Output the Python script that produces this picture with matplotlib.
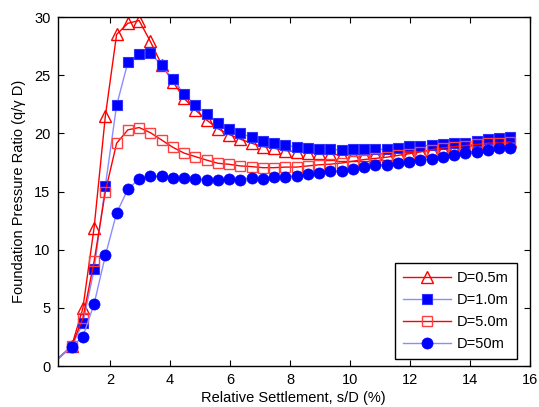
import numpy as np
import matplotlib
matplotlib.use("Agg")
import matplotlib.pyplot as plt

plt.rcParams['font.family'] = ['Liberation Sans', 'DejaVu Sans']

# relative settlement s/D (%) : 0 plus 40 measured steps
s_over_D = [0.0] + [round(0.72 + 0.375 * k, 3) for k in range(40)]

ratio_05 = [0, 1.7, 4.96, 11.9, 21.5, 28.5, 29.46, 29.7, 27.9, 25.9, 24.45,
            23.0, 22.0, 21.15, 20.4, 19.9, 19.5, 19.15, 18.86, 18.72, 18.51,
            18.43, 18.35, 18.3, 18.2, 18.15, 18.15, 18.18, 18.2, 18.25, 18.3,
            18.35, 18.45, 18.55, 18.65, 18.75, 18.85, 18.95, 19.1, 19.2, 19.3]
ratio_10 = [0, 1.66, 3.67, 8.3, 15.5, 22.4, 26.1, 26.8, 26.9, 25.85, 24.65,
            23.35, 22.45, 21.65, 20.9, 20.35, 20.0, 19.66, 19.32, 19.15, 18.97,
            18.8, 18.71, 18.63, 18.63, 18.55, 18.63, 18.63, 18.63, 18.63, 18.72,
            18.9, 18.9, 19.0, 19.06, 19.2, 19.2, 19.3, 19.5, 19.57, 19.7]
ratio_50 = [0, 1.7, 4.1, 9.0, 15.0, 19.15, 20.3, 20.5, 20.06, 19.43, 18.8,
            18.3, 18.0, 17.7, 17.43, 17.34, 17.2, 17.14, 17.05, 17.05, 17.1,
            17.1, 17.2, 17.3, 17.35, 17.45, 17.6, 17.75, 17.85, 17.95, 18.1,
            18.25, 18.4, 18.6, 18.75, 18.85, 18.95, 19.05, 19.15, 19.2, 19.25]
ratio_500 = [0, 1.66, 2.52, 5.33, 9.5, 13.15, 15.2, 16.08, 16.3, 16.3, 16.2,
             16.2, 16.1, 16.0, 16.0, 16.05, 16.0, 16.16, 16.1, 16.28, 16.28,
             16.34, 16.51, 16.62, 16.74, 16.8, 16.97, 17.08, 17.26, 17.3, 17.43,
             17.51, 17.68, 17.83, 17.94, 18.11, 18.29, 18.37, 18.57, 18.71, 18.71]

labels = ['D=0.5m', 'D=1.0m', 'D=5.0m', 'D=50m']
x_ticks = [2, 4, 6, 8, 10, 12, 14, 16]
y_ticks = [0, 5, 10, 15, 20, 25, 30]

fig = plt.figure(figsize=(5.39, 4.07), dpi=100)
ax = fig.add_axes([0.1067, 0.1007, 0.8766, 0.8575])

light_blue = '#8c8cff'
ax.plot(s_over_D, ratio_05, color='red', lw=1.0, marker='^', ms=8,
        mfc='none', mec='red', mew=1.0, label=labels[0])
ax.plot(s_over_D, ratio_10, color=light_blue, lw=1.0, marker='s', ms=7.5,
        mfc='blue', mec='#3030ff', mew=0.8, label=labels[1])
ax.plot(s_over_D, ratio_50, color='red', lw=1.0, marker='s', ms=7.5,
        mfc='none', mec='#ff4040', mew=1.0, label=labels[2])
ax.plot(s_over_D, ratio_500, color=light_blue, lw=1.0, marker='o', ms=8,
        mfc='blue', mec='blue', mew=0.5, label=labels[3])

ax.set_xlim(0.25, 16)
ax.set_ylim(0, 30)
ax.set_xticks(x_ticks)
ax.set_yticks(y_ticks)
ax.tick_params(direction='in', top=True, right=True, labelsize=10.5,
               length=4, width=0.8, pad=5)
for sp in ax.spines.values():
    sp.set_linewidth(1.0)

ax.set_xlabel('Relative Settlement, s/D (%)', fontsize=10.5, labelpad=3)
ax.set_ylabel('Foundation Pressure Ratio (q/\u03b3 D)', fontsize=10.5, labelpad=6)

leg = ax.legend(loc='lower right', bbox_to_anchor=(0.9725, 0.02),
                fontsize=10.5, handlelength=3.3, labelspacing=0.55,
                borderpad=0.55, handletextpad=0.4, fancybox=False,
                framealpha=1, edgecolor='black', borderaxespad=0)
leg.get_frame().set_linewidth(1.0)

fig.savefig('out.png', dpi=100)
